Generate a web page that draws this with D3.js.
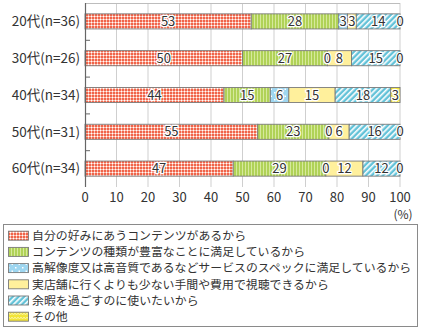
<!DOCTYPE html>
<html><head><meta charset="utf-8">
<script src="https://cdn.jsdelivr.net/npm/d3@7"></script>
<style>
body{margin:0;background:#fff;}
svg{display:block;font-family:"Noto Sans CJK JP","Noto Sans",sans-serif;}
</style></head>
<body><svg id="c" width="421" height="331"></svg>
<script>
const categories = ["20代(n=36)","30代(n=26)","40代(n=34)","50代(n=31)","60代(n=34)"];
const seriesNames = [
  "自分の好みにあうコンテンツがあるから",
  "コンテンツの種類が豊富なことに満足しているから",
  "高解像度又は高音質であるなどサービスのスペックに満足しているから",
  "実店舗に行くよりも少ない手間や費用で視聴できるから",
  "余暇を過ごすのに使いたいから",
  "その他"
];
const s1 = [52.78, 50.0, 44.12, 54.84, 47.06];
const s2 = [27.78, 26.92, 14.71, 22.58, 29.41];
const s3 = [2.78, 0, 5.88, 0, 0];
const s4 = [2.78, 7.69, 14.71, 6.45, 11.76];
const s5 = [13.89, 15.38, 17.65, 16.13, 11.76];
const s6 = [0, 0, 2.94, 0, 0];
const xTicks = [0,10,20,30,40,50,60,70,80,90,100];

(function(){
const series = [s1,s2,s3,s4,s5,s6];
const svg = d3.select("#c");
const defs = svg.append("defs");

function pat(id, w, h, bg, transform){
  const p = defs.append("pattern").attr("id", id).attr("patternUnits","userSpaceOnUse")
    .attr("width", w).attr("height", h);
  if (transform) p.attr("patternTransform", transform);
  p.append("rect").attr("width", w).attr("height", h).attr("fill", bg);
  return p;
}
let p = pat("p1", 3, 3, "#f0644a");
p.append("rect").attr("x",0).attr("y",1).attr("width",3).attr("height",1).attr("fill","#fbbcad");
p.append("rect").attr("x",1).attr("y",0).attr("width",1).attr("height",3).attr("fill","#fbbcad");
p.append("rect").attr("x",1).attr("y",1).attr("width",1).attr("height",1).attr("fill","#ffffff");
p = pat("p2", 3, 3, "#b0d257");
p.append("rect").attr("x",2).attr("y",0).attr("width",1).attr("height",3).attr("fill","#d6e99c");
p = pat("p3", 7, 7, "#9ed6f0");
p.append("rect").attr("x",1).attr("y",1).attr("width",1.5).attr("height",1.5).attr("fill","#ffffff");
p.append("rect").attr("x",4.5).attr("y",4.5).attr("width",1.5).attr("height",1.5).attr("fill","#ffffff");
p = pat("p4", 4, 4, "#fff09c");
p = pat("p5", 4, 4, "#62c2d8", "rotate(45)");
p.append("rect").attr("x",0).attr("y",0).attr("width",1.6).attr("height",4).attr("fill","#ffffff");
p = pat("p6", 6, 4, "#f2e43a");
p.append("path").attr("d","M0,1 L1.5,3 L3,1 L4.5,3 L6,1").attr("fill","none").attr("stroke","#fbf5a8").attr("stroke-width",0.9);
const fills = ["url(#p1)","url(#p2)","url(#p3)","url(#p4)","url(#p5)","url(#p6)"];

const pL = 85, pR = 400, pT = 3, pB = 187;
const x = d3.scaleLinear().domain([0,100]).range([pL,pR]);
const y = d3.scaleBand().domain(categories).range([pT,pB]).paddingInner(0.59).paddingOuter(0.295);
const band = d3.scaleBand().domain(categories).range([pT,pB]);

svg.append("g").selectAll("line").data(xTicks.slice(1)).join("line")
  .attr("x1", d=>x(d)).attr("x2", d=>x(d)).attr("y1", pT).attr("y2", pB)
  .attr("stroke", "#cfcfcf").attr("stroke-width", 1);
svg.append("line").attr("x1", pL).attr("x2", pR).attr("y1", pT+0.5).attr("y2", pT+0.5)
  .attr("stroke","#bdbdbd");

const stacked = categories.map((c,i)=>{
  let acc = 0;
  return series.map((s,k)=>{ const v = s[i]; const r = {cat:c, k, v, x0:acc, x1:acc+v}; acc += v; return r; });
});
const gBars = svg.append("g");
stacked.forEach(row=>{
  gBars.append("g").selectAll("rect").data(row.filter(d=>d.v>0)).join("rect")
    .attr("x", d=>x(d.x0)).attr("width", d=>x(d.x1)-x(d.x0))
    .attr("y", d=>y(d.cat)).attr("height", y.bandwidth())
    .attr("fill", d=>fills[d.k]).attr("stroke","#7a7a7a").attr("stroke-width",0.9);
});

svg.append("line").attr("x1", pL+0.5).attr("x2", pL+0.5).attr("y1", pT).attr("y2", pB)
  .attr("stroke","#666").attr("stroke-width",1.2);
svg.append("g").selectAll("line").data(categories.slice(1)).join("line")
  .attr("x1", pL).attr("x2", pL+5).attr("y1", d=>band(d)+0.5).attr("y2", d=>band(d)+0.5)
  .attr("stroke","#666").attr("stroke-width",1);

svg.append("g").selectAll("text").data(categories).join("text")
  .attr("x", 80).attr("y", d=>y(d)+y.bandwidth()/2).attr("dy","0.36em")
  .attr("text-anchor","end").attr("font-size", 13.5).attr("fill","#333").text(d=>d);

stacked.forEach(row=>{
  svg.append("g").selectAll("text").data(row).join("text")
    .attr("x", d=>x((d.x0+d.x1)/2)).attr("y", d=>y(d.cat)+y.bandwidth()/2).attr("dy","0.36em")
    .attr("text-anchor","middle").attr("font-size",13).attr("fill","#333")
    .attr("stroke","#fff").attr("stroke-width",2.5).attr("paint-order","stroke").attr("stroke-linejoin","round")
    .text(d=>Math.round(d.v));
});

svg.append("g").selectAll("text").data(xTicks).join("text")
  .attr("x", d=>x(d)).attr("y", 197).attr("dy","0.36em").attr("text-anchor","middle")
  .attr("font-size",13).attr("fill","#333").text(d=>d);
svg.append("text").attr("x", 403).attr("y", 215).attr("dy","0.36em").attr("text-anchor","middle")
  .attr("font-size",12).attr("fill","#333").text("(%)");

svg.append("rect").attr("x",3.5).attr("y",224.5).attr("width",414).attr("height",102)
  .attr("fill","#fff").attr("stroke","#8a8a8a");
const ly = d3.scalePoint().domain(seriesNames).range([235.7, 316.7]);
const lg = svg.append("g").selectAll("g").data(seriesNames).join("g");
lg.append("rect").attr("x",8.5).attr("y", d=>ly(d)-4.5).attr("width",20).attr("height",9)
  .attr("fill",(d,i)=>fills[i]).attr("stroke","#7a7a7a").attr("stroke-width",0.9);
lg.append("text").attr("x",32).attr("y", d=>ly(d)).attr("dy","0.36em")
  .attr("font-size",11.9).attr("fill","#333").text(d=>d);
})();
</script></body></html>
